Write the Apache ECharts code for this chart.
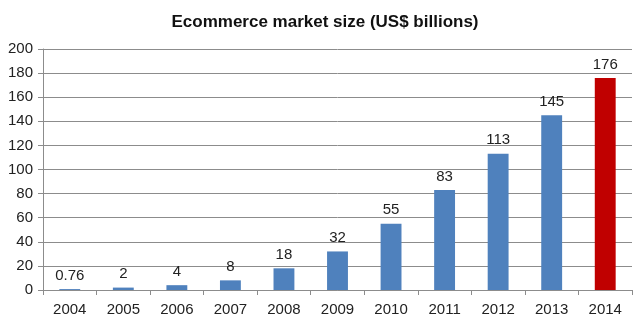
<!DOCTYPE html>
<html><head><meta charset="utf-8">
<script src="https://cdn.jsdelivr.net/npm/echarts@6/dist/echarts.min.js"></script>
<style>html,body{margin:0;padding:0;background:#fff}#c{width:640px;height:322px}</style>
</head><body><div id="c"></div>
<script>
const years = ['2004','2005','2006','2007','2008','2009','2010','2011','2012','2013','2014'];
const values = [0.76, 2, 4, 8, 18, 32, 55, 83, 113, 145, 176];
const labels = ['0.76','2','4','8','18','32','55','83','113','145','176'];
const blue = '#4F81BD', red = '#C00000';
const font = 'Liberation Sans';
const chart = echarts.init(document.getElementById('c'), null, {renderer:'canvas'});
chart.setOption({
  animation: false,
  title: {
    text: 'Ecommerce market size (US$ billions)',
    left: 320, top: 9, textAlign: 'center',
    textStyle: {fontFamily: font, fontSize: 17, fontWeight: 'bold', color: '#111'}
  },
  grid: {left: 43, right: 8, top: 49, bottom: 32, containLabel: false},
  xAxis: {
    type: 'category', data: years,
    axisLine: {show: true, lineStyle: {color: '#8c8c8c', width: 1}},
    axisTick: {show: true, length: 5, lineStyle: {color: '#8c8c8c'}},
    axisLabel: {fontFamily: font, fontSize: 15, color: '#222', margin: 12}
  },
  yAxis: {
    type: 'value', min: 0, max: 200, interval: 20,
    axisLine: {show: true, lineStyle: {color: '#8c8c8c', width: 1}},
    axisTick: {show: true, length: 5, lineStyle: {color: '#8c8c8c'}},
    axisLabel: {fontFamily: font, fontSize: 15, color: '#222', margin: 10},
    splitLine: {show: true, lineStyle: {color: '#8c8c8c', width: 1}}
  },
  series: [{
    type: 'bar',
    data: values.map((v, i) => ({value: v, itemStyle: {color: i === values.length - 1 ? red : blue}})),
    barWidth: '39%',
    label: {
      show: true, position: 'top', distance: 6,
      fontFamily: font, fontSize: 15, color: '#222',
      formatter: p => labels[p.dataIndex]
    }
  }]
});
</script></body></html>
